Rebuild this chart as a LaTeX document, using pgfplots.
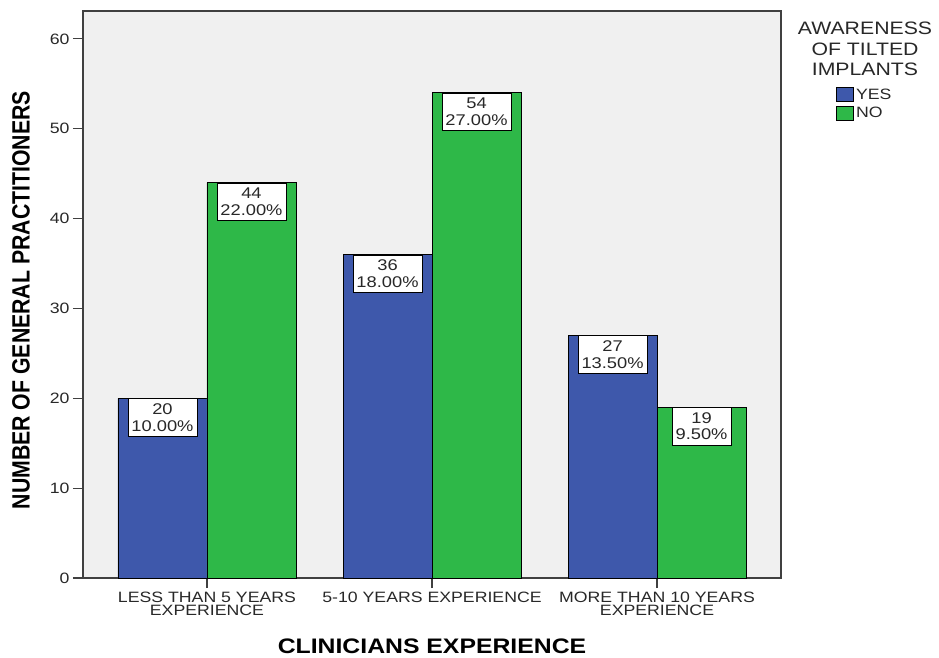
\documentclass[border=0pt]{standalone}
\usepackage{fontspec}
\setmainfont{Liberation Sans}[FakeStretch=1.18]
\newfontfamily\condensedfont{Liberation Sans}[FakeStretch=0.85]
\usepackage{pgfplots}
\pgfplotsset{compat=1.18}

\definecolor{spssblue}{RGB}{62,88,171}
\definecolor{spssgreen}{RGB}{46,184,72}
\definecolor{spssbg}{RGB}{240,240,240}
\definecolor{inkgray}{RGB}{40,40,40}

\begin{document}
\begin{tikzpicture}[x=1pt,y=1pt]
\useasboundingbox (0,0) rectangle (939,657);
\begin{axis}[
  at={(83pt,79pt)}, anchor=south west,
  scale only axis, width=698pt, height=567pt,
  ybar=0pt, bar width=89pt,
  xmin=-0.551, xmax=2.551, ymin=0, ymax=63.1,
  axis background/.style={fill=spssbg},
  axis line style={black!75, line width=1.2pt},
  xtick={0,1,2},
  xticklabels={{LESS THAN 5 YEARS\\EXPERIENCE},{5-10 YEARS EXPERIENCE},{MORE THAN 10 YEARS\\EXPERIENCE}},
  xticklabel style={align=center, font=\fontsize{15}{13.5}\selectfont, text=inkgray},
  ytick={0,10,...,60},
  yticklabel style={font=\fontsize{15}{15}\selectfont, text=inkgray},
  /pgf/number format/assume math mode=true,
  tick align=outside, major tick length=10pt,
  tick style={black!75, line width=1.2pt},
  xtick pos=bottom, ytick pos=left,
  xlabel={CLINICIANS EXPERIENCE},
  xlabel style={at={(axis description cs:0.5,-0.12)}, anchor=center,
    font=\bfseries\fontsize{21}{21}\selectfont},
  ylabel={NUMBER OF GENERAL PRACTITIONERS},
  ylabel style={at={(axis description cs:-0.0888,0.49)}, anchor=center,
    font=\condensedfont\bfseries\fontsize{25}{25}\selectfont},
  legend style={at={(axis description cs:1.0788,0.866)}, anchor=north west,
    draw=none, fill=none, inner sep=0pt, row sep=4pt,
    font=\fontsize{15}{15}\selectfont, text=inkgray,
    nodes={inner xsep=2pt, inner ysep=1pt}},
  legend cell align=left,
  legend image code/.code={\draw[#1] (0pt,-7pt) rectangle (17pt,7pt);},
  % count on the first line, share of the 200 respondents on the second
  nodes near coords={\pgfmathprintnumber{\pgfplotspointmeta}\\%
    \pgfmathfloattofixed{\pgfplotspointmeta}%
    \pgfmathparse{\pgfmathresult/2}%
    \pgfmathprintnumber[fixed,fixed zerofill,precision=2]{\pgfmathresult}\%},
  every node near coord/.append style={anchor=north, fill=white, draw=black,
    line width=0.8pt, align=center, inner xsep=3.5pt, inner ysep=5pt,
    font=\fontsize{15.5}{16.5}\selectfont, text=inkgray},
]
% awareness = YES
\addplot[fill=spssblue, draw=black, line width=0.8pt]
  coordinates {(0,20) (1,36) (2,27)};
\addlegendentry{YES}
% awareness = NO
\addplot[fill=spssgreen, draw=black, line width=0.8pt]
  coordinates {(0,44) (1,54) (2,19)};
\addlegendentry{NO}
\end{axis}
\node[align=center, font=\fontsize{18}{20.5}\selectfont, text=inkgray]
  at (865,608) {AWARENESS\\OF TILTED\\IMPLANTS};
\end{tikzpicture}
\end{document}
